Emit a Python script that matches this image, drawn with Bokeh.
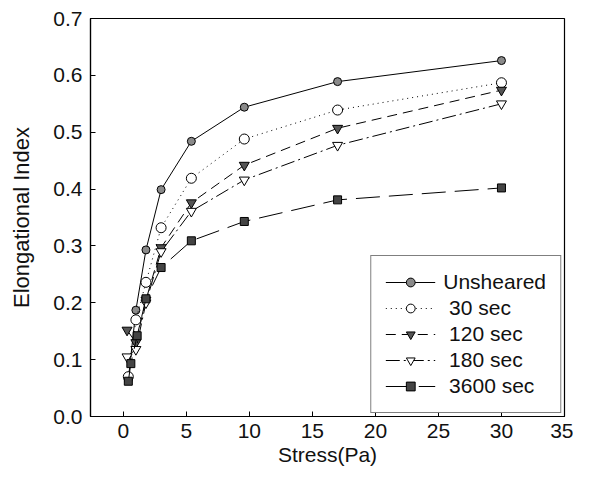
from bokeh.plotting import figure
from bokeh.models import Range1d, FixedTicker, Legend, LegendItem, PrintfTickFormatter
from bokeh.embed import file_html
from bokeh.resources import INLINE

series_labels = ["Unsheared", " 30 sec", " 120 sec", " 180 sec", " 3600 sec"]

uns_x = [0.4, 1.0, 1.8, 3.0, 5.4, 9.6, 17.0, 30.0]
uns_y = [0.065, 0.187, 0.293, 0.399, 0.484, 0.544, 0.589, 0.626]

s30_x = [0.4, 1.0, 1.8, 3.0, 5.4, 9.6, 17.0, 30.0]
s30_y = [0.07, 0.17, 0.236, 0.332, 0.419, 0.488, 0.539, 0.587]

s120_x = [0.3, 1.0, 1.8, 3.0, 5.4, 9.6, 17.0, 30.0]
s120_y = [0.152, 0.13, 0.205, 0.297, 0.376, 0.442, 0.507, 0.574]

s180_x = [0.3, 1.0, 1.8, 3.0, 5.4, 9.6, 17.0, 30.0]
s180_y = [0.105, 0.118, 0.2, 0.29, 0.361, 0.416, 0.477, 0.55]

s3600_x = [0.4, 0.6, 1.1, 1.8, 3.0, 5.4, 9.6, 17.0, 30.0]
s3600_y = [0.062, 0.093, 0.142, 0.207, 0.262, 0.309, 0.343, 0.381, 0.402]

x_ticks = [0, 5, 10, 15, 20, 25, 30, 35]
y_ticks = [0.0, 0.1, 0.2, 0.3, 0.4, 0.5, 0.6, 0.7]

FONT = "Liberation Sans"

p = figure(width=573, height=471, output_backend="svg", toolbar_location=None,
           x_range=Range1d(-2.6, 35), y_range=Range1d(0, 0.7),
           min_border_left=90, min_border_right=9, min_border_top=18, min_border_bottom=55)

p.xgrid.visible = False
p.ygrid.visible = False
p.outline_line_color = "black"
p.outline_line_width = 1.2

for ax in (p.xaxis[0], p.yaxis[0]):
    ax.major_tick_in = 5
    ax.major_tick_out = 0
    ax.minor_tick_in = 0
    ax.minor_tick_out = 0
    ax.axis_line_color = "black"
    ax.axis_line_width = 1.2
    ax.major_tick_line_color = "black"
    ax.major_label_text_font = FONT
    ax.major_label_text_font_size = "21px"
    ax.major_label_text_color = "#111111"
    ax.axis_label_text_font = FONT
    ax.axis_label_text_font_style = "normal"
    ax.axis_label_text_color = "#111111"

p.xaxis.axis_label_text_font_size = "21px"
p.yaxis.axis_label_text_font_size = "22px"
p.xaxis.ticker = FixedTicker(ticks=x_ticks)
p.yaxis.ticker = FixedTicker(ticks=y_ticks)
p.yaxis.formatter = PrintfTickFormatter(format="%.1f")
p.xaxis.axis_label = "Stress(Pa)"
p.yaxis.axis_label = "Elongational Index"
p.xaxis.major_label_standoff = 7
p.yaxis.major_label_standoff = 8
p.xaxis.axis_label_standoff = 2
p.yaxis.axis_label_standoff = 16

items = []

def add_series(xs, ys, label, dash, marker, fill, size):
    ln = p.line(xs, ys, line_color="black", line_width=1, line_dash=dash)
    mk = p.scatter(xs, ys, marker=marker, size=size, fill_color=fill,
                   line_color="black", line_width=1)
    items.append(LegendItem(label=label, renderers=[ln, mk]))

add_series(uns_x, uns_y, series_labels[0], "solid", "circle", "#8a8a8a", 8)
add_series(s30_x, s30_y, series_labels[1], "1 4", "circle", "white", 10)
add_series(s120_x, s120_y, series_labels[2], "10 6", "inverted_triangle", "#555555", 10)
add_series(s180_x, s180_y, series_labels[3], "14 4 2 4", "inverted_triangle", "white", 10)
add_series(s3600_x, s3600_y, series_labels[4], "24 9", "square", "#444444", 8)

legend = Legend(items=items, location="bottom_right")
legend.border_line_color = "black"
legend.border_line_width = 1
legend.label_text_font = FONT
legend.label_text_font_size = "21px"
legend.label_text_color = "#111111"
legend.glyph_width = 50
legend.glyph_height = 22
legend.label_height = 22
legend.spacing = 2
legend.padding = 14
legend.margin = 3
legend.label_standoff = 8
p.add_layout(legend)

open("out.html", "w").write(file_html(p, INLINE))
